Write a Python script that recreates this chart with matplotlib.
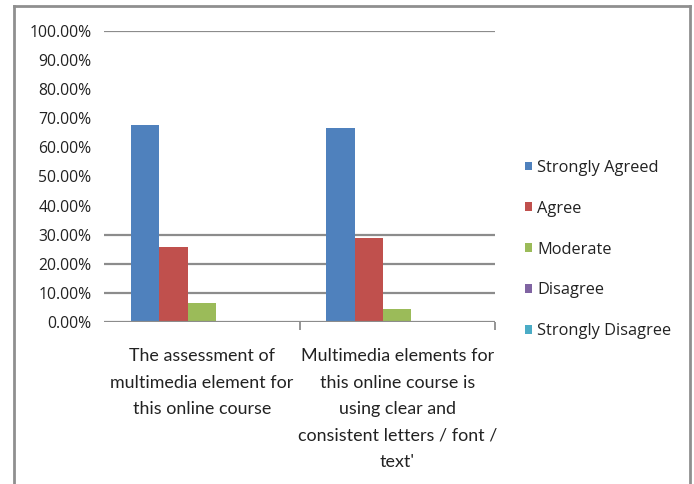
import matplotlib
matplotlib.use("Agg")
import matplotlib.pyplot as plt
from matplotlib.lines import Line2D
from matplotlib.ticker import FuncFormatter, FixedLocator
import numpy as np

categories = [
    "The assessment of\nmultimedia element for\nthis online course",
    "Multimedia elements for\nthis online course is\nusing clear and\nconsistent letters / font /\ntext'",
]
series_names = ["Strongly Agreed", "Agree", "Moderate", "Disagree", "Strongly Disagree"]
series_values = [
    [67.74, 66.67],   # Strongly Agreed
    [25.81, 28.89],   # Agree
    [6.45, 4.44],     # Moderate
    [0.0, 0.0],       # Disagree
    [0.0, 0.0],       # Strongly Disagree
]
y_ticks = [0, 10, 20, 30, 40, 50, 60, 70, 80, 90, 100]
grid_levels = [10, 20, 30, 100]

colors = ["#4F81BD", "#C0504D", "#9BBB59", "#8064A2", "#4BACC6"]
plt.rcParams["font.family"] = ["Lato", "DejaVu Sans"]
side_font = ["Open Sans", "DejaVu Sans"]
text_color = "#222222"

W, H = 694, 484
fig = plt.figure(figsize=(W / 100, H / 100), dpi=100)
ax = fig.add_axes([104 / W, 1 - 322 / H, (495 - 104) / W, (322 - 31) / H])

x = np.arange(len(categories))
bw = 0.145
for i, (name, vals) in enumerate(zip(series_names, series_values)):
    ax.bar(x + (i - 2) * bw, vals, width=bw, color=colors[i], label=name, zorder=3)

ax.set_xlim(-0.5, len(categories) - 0.5)
ax.set_ylim(0, 100)

for lvl in grid_levels:
    ax.axhline(lvl, color="#8c8c8c", lw=1.6, zorder=1)
ax.axhline(0, color="#8c8c8c", lw=1.6, zorder=4)

for s in ax.spines.values():
    s.set_visible(False)

ax.yaxis.set_major_locator(FixedLocator(y_ticks))
ax.yaxis.set_major_formatter(FuncFormatter(lambda v, p: f"{v:.2f}%"))
ax.tick_params(axis="y", length=0, pad=9, labelcolor=text_color)
for lab in ax.get_yticklabels():
    lab.set_fontfamily(side_font)
    lab.set_fontsize(11.3)

ax.set_xticks(x)
ax.set_xticklabels(categories, fontsize=12.9, linespacing=1.8, color=text_color, va="top")
ax.tick_params(axis="x", length=0, pad=19)
ax.xaxis.set_minor_locator(FixedLocator([0.5, 1.5]))
ax.tick_params(axis="x", which="minor", length=6, width=1.3, color="#8c8c8c")

ax.legend(loc="upper left", bbox_to_anchor=(510 / W, 1 - 145 / H),
          bbox_transform=fig.transFigure, frameon=False,
          prop={"family": side_font, "size": 11.8},
          handlelength=0.45, handleheight=0.45, handletextpad=0.3,
          labelspacing=1.52, labelcolor=text_color)

# outer chart border
bc = "#8f8f8f"
fig.add_artist(Line2D([14 / W, 690 / W], [1 - 6 / H, 1 - 6 / H], color=bc, lw=2, transform=fig.transFigure))
fig.add_artist(Line2D([14 / W, 14 / W], [0, 1 - 6 / H], color=bc, lw=2, transform=fig.transFigure))
fig.add_artist(Line2D([690 / W, 690 / W], [0, 1 - 6 / H], color=bc, lw=2, transform=fig.transFigure))

fig.savefig("out.png", dpi=100)
